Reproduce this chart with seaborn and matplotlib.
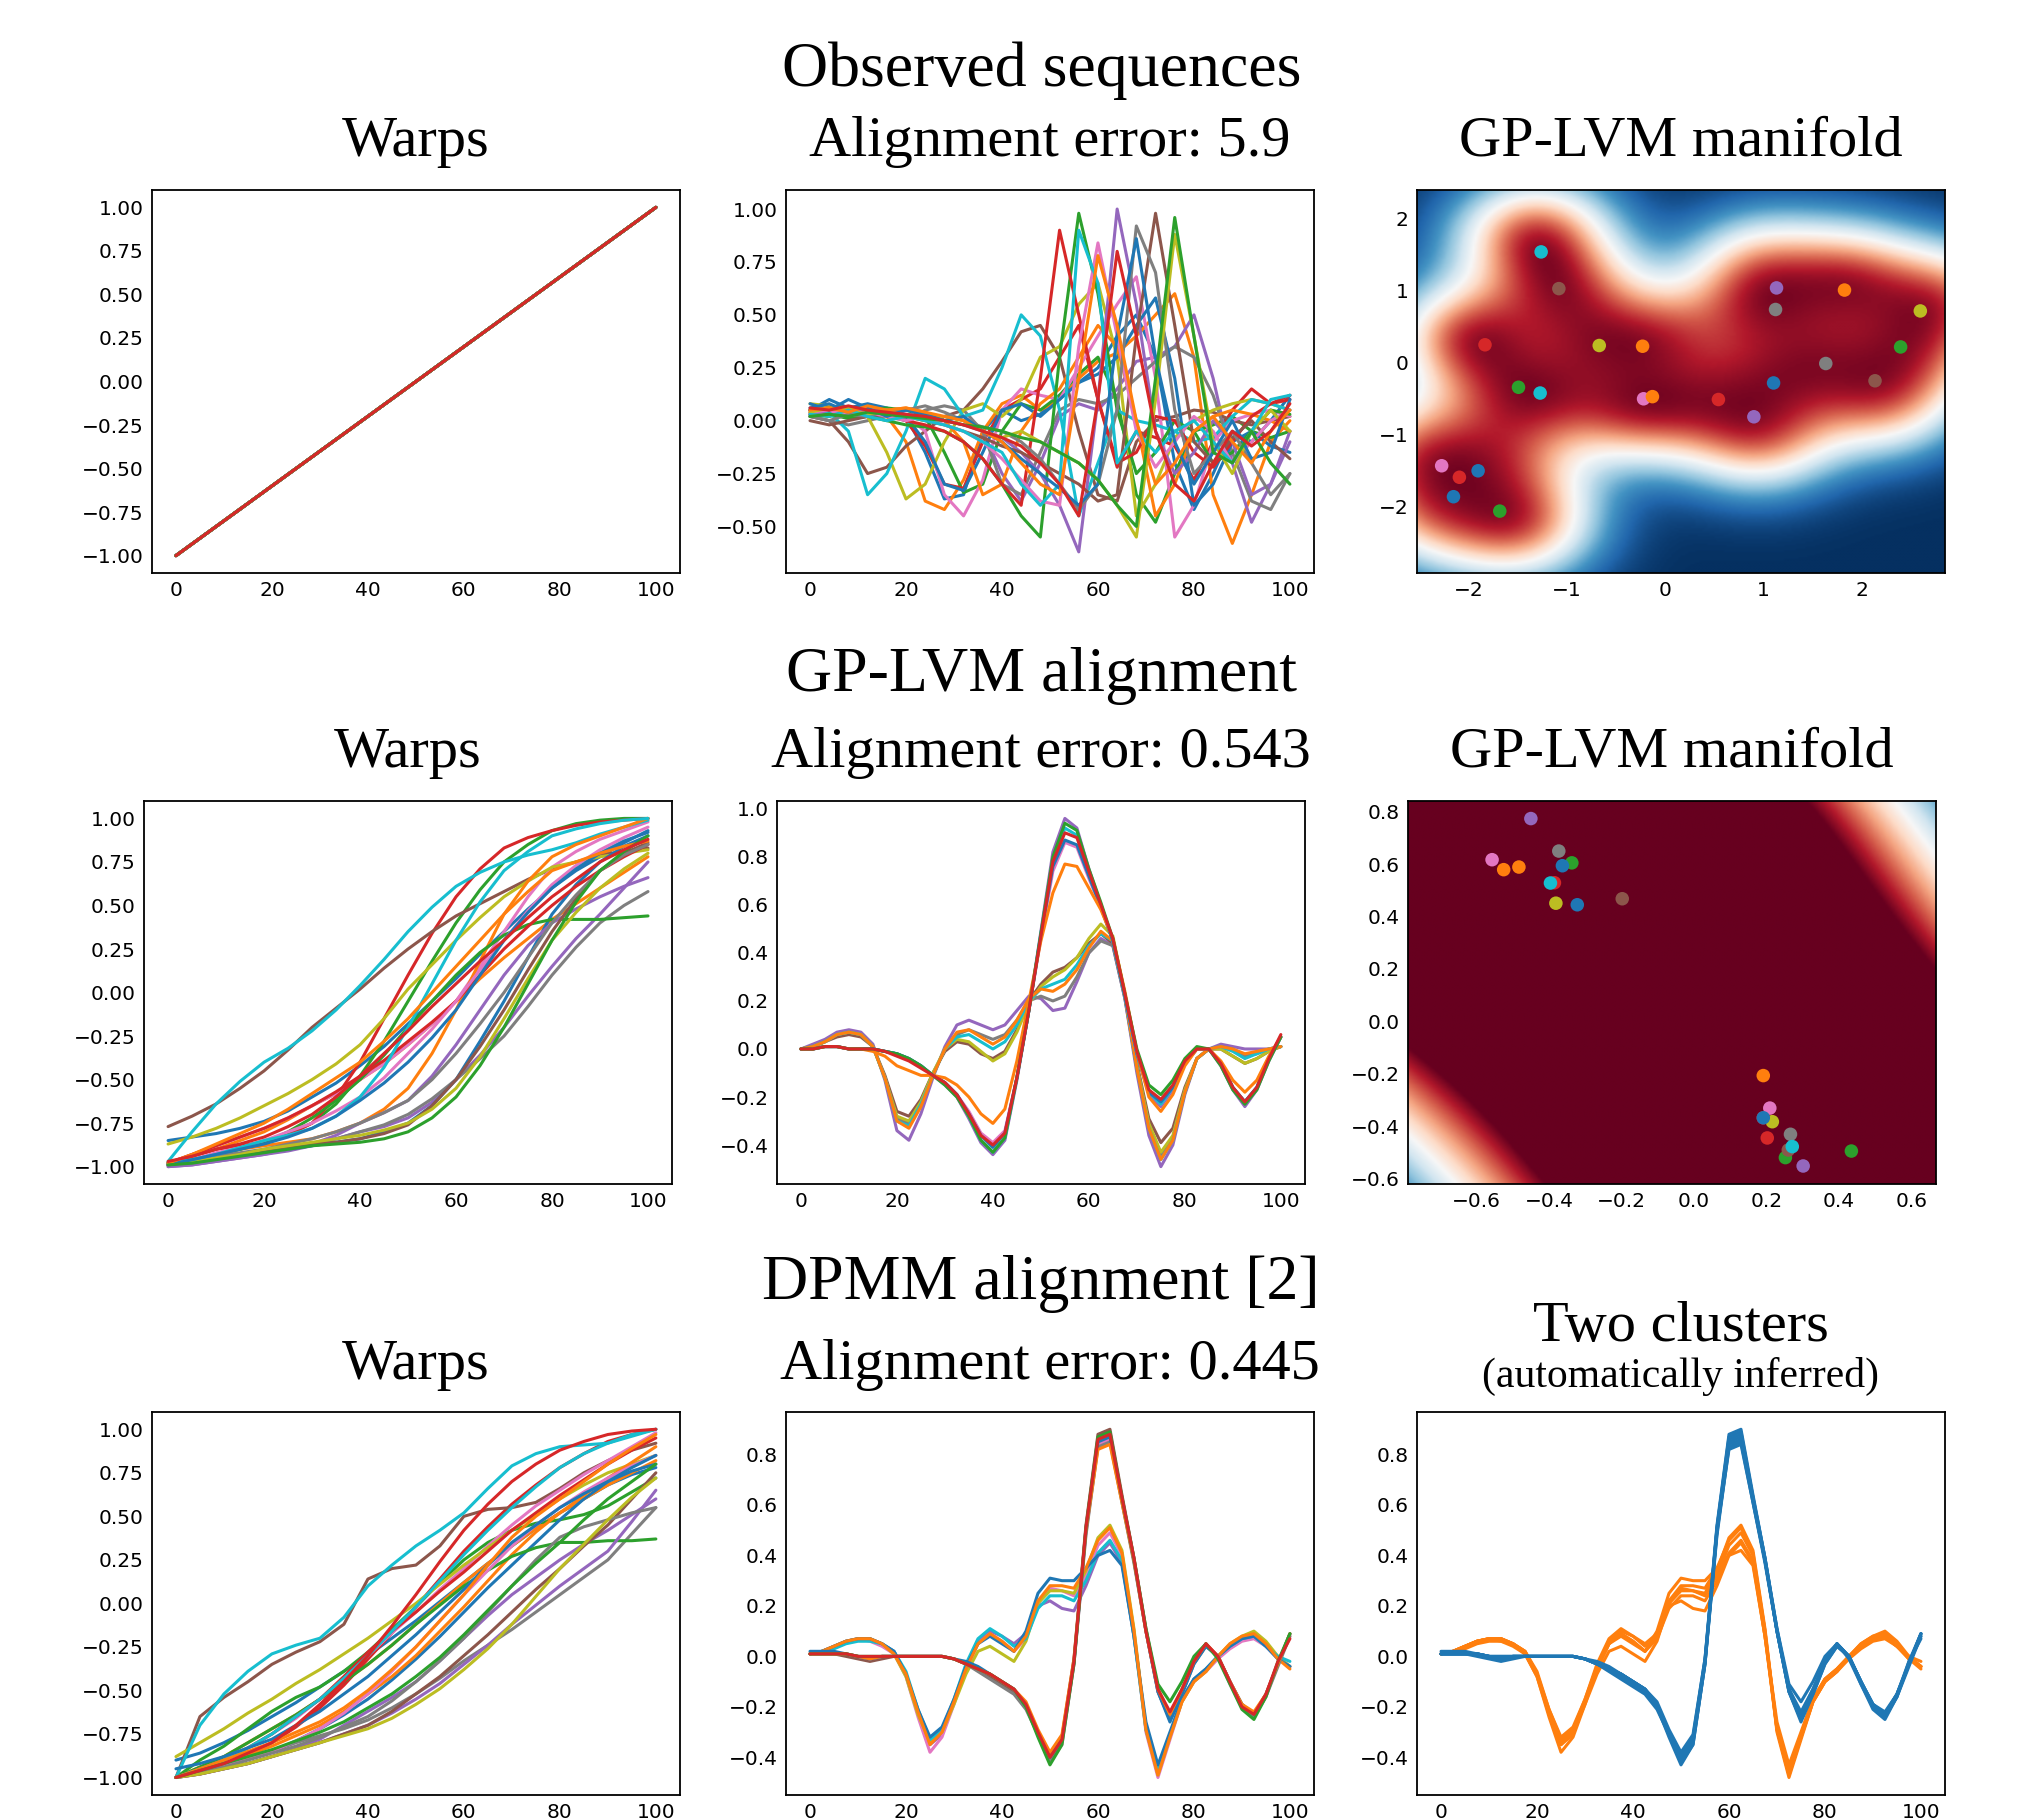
import numpy as np
import pandas as pd
import matplotlib
matplotlib.use("Agg")
import matplotlib.pyplot as plt
from matplotlib.ticker import MultipleLocator
import seaborn as sns

# ---------------- data ----------------
N_SEQ = 24
SEQ_IDS = list(range(N_SEQ))

# sampling times
T_OBS = list(range(0, 101, 4))          # observed sequences
T_WARP = list(range(0, 101, 5))         # warps
T_ALIGN = [i * 2.5 for i in range(41)]  # aligned sequences

# row 1: identity warps (all 24 identical)
IDENTITY_T = [0, 100]
IDENTITY_WARP = [-1.0, 1.0]

# row 1: observed sequences (ids 0..23)
OBSERVED = [
    [0.05, 0.10, 0.06, 0.08, 0.06, 0.02, -0.15, -0.37, -0.35, -0.05, 0.05, 0.00, 0.03, 0.12, 0.18, 0.25, 0.40, 0.50, 0.30, -0.20, -0.42, -0.25, -0.05, -0.10, 0.00, 0.12],
    [0.04, 0.05, 0.06, 0.04, 0.02, -0.10, -0.38, -0.42, -0.28, -0.05, 0.08, 0.12, 0.05, 0.10, 0.20, 0.28, 0.32, 0.40, 0.50, 0.60, 0.30, -0.35, -0.58, -0.35, -0.10, 0.00],
    [0.03, 0.02, 0.04, 0.05, 0.06, 0.05, 0.02, -0.15, -0.34, -0.30, -0.05, 0.08, 0.05, 0.12, 0.22, 0.30, 0.10, -0.35, -0.48, -0.25, -0.05, -0.02, 0.02, -0.05, -0.08, -0.05],
    [0.05, 0.06, 0.05, 0.04, 0.03, 0.00, -0.12, -0.30, -0.32, -0.10, 0.05, 0.10, 0.15, 0.30, 0.45, 0.10, -0.22, -0.05, -0.08, -0.12, -0.28, -0.10, 0.05, 0.15, 0.08, 0.10],
    [0.03, 0.05, 0.04, 0.02, 0.03, 0.01, 0.02, 0.00, 0.02, -0.05, -0.25, -0.38, -0.20, 0.02, 0.08, 0.05, 0.15, 0.28, 0.30, 0.35, 0.50, 0.20, -0.20, -0.48, -0.30, -0.05],
    [0.02, 0.00, -0.10, -0.25, -0.22, -0.12, -0.05, 0.02, 0.05, 0.15, 0.28, 0.42, 0.45, 0.30, -0.05, -0.35, -0.38, -0.10, 0.00, 0.02, 0.05, 0.04, 0.00, -0.02, 0.00, 0.02],
    [0.03, 0.04, 0.05, 0.03, 0.05, 0.02, -0.05, -0.35, -0.45, -0.28, 0.05, 0.15, 0.12, 0.10, 0.25, 0.40, 0.55, 0.68, 0.20, -0.55, -0.40, -0.10, 0.00, 0.03, 0.05, 0.02],
    [0.02, 0.00, -0.02, 0.00, 0.02, 0.00, 0.05, 0.07, 0.05, -0.05, -0.30, -0.35, -0.15, 0.05, 0.10, 0.08, 0.12, 0.20, 0.28, 0.35, 0.30, 0.12, -0.15, -0.38, -0.42, -0.25],
    [0.08, 0.07, 0.06, 0.02, -0.15, -0.37, -0.30, -0.10, 0.05, 0.08, 0.02, 0.10, 0.30, 0.35, 0.55, 0.65, 0.30, -0.45, -0.30, -0.08, 0.00, 0.05, 0.08, 0.10, 0.08, 0.05],
    [0.05, 0.04, -0.05, -0.35, -0.25, -0.05, 0.20, 0.15, 0.02, 0.05, 0.25, 0.50, 0.40, 0.05, -0.45, -0.20, 0.05, 0.00, -0.02, -0.05, -0.10, -0.08, 0.02, 0.10, 0.08, 0.05],
    [0.06, 0.08, 0.04, 0.06, 0.04, 0.02, -0.10, -0.30, -0.33, -0.15, 0.05, 0.08, 0.02, 0.10, 0.18, 0.22, 0.30, 0.45, 0.58, 0.20, -0.40, -0.30, -0.10, -0.05, -0.12, -0.15],
    [0.04, 0.06, 0.05, 0.04, 0.05, 0.06, 0.04, 0.00, -0.10, -0.35, -0.30, -0.05, 0.08, 0.15, 0.30, 0.45, 0.35, 0.00, -0.45, -0.30, -0.05, 0.02, 0.05, 0.03, 0.00, -0.05],
    [0.02, 0.03, 0.01, 0.02, 0.00, -0.02, -0.03, -0.05, -0.10, -0.18, -0.30, -0.45, -0.55, 0.30, 0.98, 0.60, 0.05, -0.25, -0.15, 0.00, -0.05, -0.20, -0.15, -0.05, 0.05, 0.03],
    [0.05, 0.06, 0.04, 0.05, 0.03, 0.00, -0.02, -0.05, -0.10, -0.18, -0.30, -0.40, 0.20, 0.90, 0.50, 0.10, -0.20, -0.15, 0.02, 0.00, -0.15, -0.22, -0.10, 0.02, 0.08, 0.12],
    [0.03, 0.05, 0.04, 0.06, 0.05, 0.03, 0.02, 0.00, -0.02, -0.05, -0.08, -0.15, -0.25, -0.40, -0.62, 0.10, 1.00, 0.55, -0.05, -0.25, -0.15, 0.00, -0.10, -0.35, -0.30, -0.10],
    [0.00, -0.02, 0.00, 0.02, 0.03, 0.02, 0.00, -0.02, -0.05, -0.08, -0.12, -0.15, -0.20, -0.25, -0.30, -0.38, -0.35, 0.40, 0.98, 0.45, -0.10, -0.20, -0.08, 0.00, -0.10, -0.18],
    [0.04, 0.05, 0.03, 0.04, 0.02, 0.00, 0.02, -0.02, -0.05, -0.10, -0.18, -0.28, -0.38, -0.40, 0.35, 0.84, 0.40, -0.05, -0.22, -0.10, 0.02, -0.05, -0.20, -0.10, 0.00, 0.05],
    [0.02, 0.00, 0.03, 0.02, 0.05, 0.05, 0.07, 0.04, 0.00, -0.03, -0.05, -0.10, -0.18, -0.30, -0.42, -0.30, 0.05, 0.92, 0.70, 0.05, -0.25, -0.15, -0.05, -0.20, -0.35, -0.25],
    [0.04, 0.06, 0.05, 0.03, 0.05, 0.02, 0.00, 0.02, 0.00, -0.05, -0.08, -0.05, -0.10, -0.15, -0.20, -0.28, -0.40, -0.55, 0.10, 0.88, 0.40, -0.10, -0.25, -0.05, 0.05, -0.05],
    [0.03, 0.02, 0.05, 0.02, 0.00, 0.02, 0.00, -0.02, -0.05, -0.10, -0.15, -0.30, -0.40, -0.30, 0.90, 0.65, -0.20, -0.05, -0.15, -0.05, 0.00, -0.10, -0.20, -0.05, 0.10, 0.12],
    [0.08, 0.05, 0.10, 0.06, 0.02, 0.05, 0.03, 0.00, 0.02, -0.05, -0.10, -0.18, -0.25, -0.32, -0.40, -0.30, 0.40, 0.86, 0.30, -0.10, -0.30, -0.15, 0.00, -0.18, -0.15, 0.10],
    [0.05, 0.06, 0.04, 0.07, 0.05, 0.06, 0.04, 0.02, 0.00, -0.05, -0.10, -0.20, -0.30, -0.35, 0.20, 0.78, 0.45, 0.00, -0.30, -0.20, -0.05, 0.02, -0.10, -0.20, -0.05, 0.05],
    [0.02, 0.03, 0.02, 0.04, 0.03, 0.02, 0.01, 0.00, -0.02, -0.03, -0.05, -0.08, -0.10, -0.15, -0.20, -0.28, -0.40, -0.50, 0.20, 0.96, 0.40, -0.15, -0.20, -0.05, -0.20, -0.30],
    [0.06, 0.05, 0.07, 0.05, 0.04, 0.03, 0.02, 0.00, -0.02, -0.05, -0.08, -0.12, -0.20, -0.30, -0.45, 0.10, 0.80, 0.40, -0.05, -0.30, -0.38, -0.20, -0.05, -0.12, -0.05, 0.08],
]

# row 1: GP-LVM latent positions (ids 0..23)
LAT1_X = [1.10, 1.82, 2.39, -1.83, 1.13, -1.08, -0.22, 1.12, 2.59, -1.26,
          -1.90, -0.23, -1.49, 0.54, 0.90, 2.13, -2.27, 1.63, -0.67, -1.27,
          -2.15, -0.13, -1.68, -2.09]
LAT1_Y = [-0.29, 1.00, 0.21, 0.24, 1.03, 1.02, -0.51, 0.73, 0.71, 1.53,
          -1.51, 0.22, -0.35, -0.52, -0.76, -0.26, -1.44, -0.02, 0.23, -0.43,
          -1.87, -0.48, -2.07, -1.60]
LAT1_EXTENT = [-2.52, 2.84, -2.93, 2.39]

# row 2: GP-LVM warps (ids 0..23)
WARPS_GPLVM = [
    [-0.85, -0.83, -0.81, -0.78, -0.74, -0.68, -0.60, -0.52, -0.42, -0.31, -0.18, -0.05, 0.08, 0.22, 0.35, 0.48, 0.60, 0.70, 0.78, 0.86, 0.93],
    [-0.98, -0.94, -0.90, -0.85, -0.80, -0.73, -0.65, -0.58, -0.50, -0.41, -0.30, -0.18, -0.05, 0.08, 0.20, 0.31, 0.42, 0.51, 0.60, 0.69, 0.78],
    [-0.98, -0.96, -0.93, -0.90, -0.86, -0.81, -0.75, -0.64, -0.48, -0.28, -0.05, 0.18, 0.40, 0.59, 0.75, 0.85, 0.93, 0.97, 0.99, 1.00, 1.00],
    [-0.98, -0.94, -0.90, -0.88, -0.86, -0.82, -0.75, -0.60, -0.40, -0.15, 0.10, 0.34, 0.55, 0.71, 0.83, 0.89, 0.93, 0.96, 0.98, 0.99, 1.00],
    [-1.00, -0.99, -0.97, -0.95, -0.93, -0.91, -0.88, -0.84, -0.80, -0.77, -0.72, -0.63, -0.50, -0.36, -0.20, -0.02, 0.15, 0.31, 0.45, 0.60, 0.75],
    [-0.77, -0.71, -0.64, -0.55, -0.45, -0.33, -0.20, -0.09, 0.02, 0.14, 0.25, 0.35, 0.44, 0.51, 0.58, 0.65, 0.71, 0.75, 0.79, 0.81, 0.83],
    [-0.98, -0.93, -0.88, -0.83, -0.78, -0.72, -0.65, -0.58, -0.50, -0.41, -0.30, -0.18, -0.05, 0.15, 0.35, 0.55, 0.72, 0.81, 0.88, 0.93, 0.98],
    [-0.99, -0.98, -0.96, -0.94, -0.92, -0.90, -0.87, -0.84, -0.80, -0.76, -0.70, -0.61, -0.50, -0.38, -0.25, -0.08, 0.10, 0.26, 0.40, 0.50, 0.58],
    [-0.87, -0.83, -0.78, -0.72, -0.65, -0.58, -0.50, -0.41, -0.30, -0.15, 0.02, 0.16, 0.30, 0.43, 0.55, 0.64, 0.72, 0.75, 0.78, 0.80, 0.82],
    [-0.97, -0.80, -0.64, -0.51, -0.40, -0.32, -0.22, -0.10, 0.04, 0.19, 0.35, 0.49, 0.61, 0.69, 0.75, 0.79, 0.82, 0.86, 0.91, 0.95, 0.99],
    [-0.99, -0.98, -0.96, -0.94, -0.92, -0.90, -0.88, -0.86, -0.84, -0.80, -0.75, -0.65, -0.50, -0.28, -0.05, 0.20, 0.45, 0.62, 0.75, 0.84, 0.90],
    [-0.99, -0.96, -0.93, -0.90, -0.88, -0.86, -0.84, -0.80, -0.75, -0.67, -0.55, -0.35, -0.10, 0.18, 0.45, 0.64, 0.78, 0.85, 0.90, 0.95, 1.00],
    [-0.99, -0.96, -0.93, -0.90, -0.86, -0.80, -0.72, -0.62, -0.50, -0.36, -0.20, -0.05, 0.10, 0.23, 0.33, 0.39, 0.42, 0.42, 0.42, 0.43, 0.44],
    [-0.98, -0.93, -0.88, -0.83, -0.78, -0.72, -0.65, -0.57, -0.48, -0.39, -0.28, -0.17, -0.05, 0.10, 0.25, 0.38, 0.50, 0.61, 0.70, 0.78, 0.85],
    [-1.00, -0.99, -0.97, -0.95, -0.93, -0.90, -0.87, -0.82, -0.75, -0.69, -0.62, -0.48, -0.30, -0.10, 0.10, 0.27, 0.40, 0.48, 0.55, 0.61, 0.66],
    [-0.99, -0.97, -0.95, -0.93, -0.91, -0.89, -0.87, -0.86, -0.84, -0.81, -0.76, -0.65, -0.50, -0.31, -0.10, 0.13, 0.35, 0.54, 0.70, 0.80, 0.86],
    [-0.99, -0.96, -0.92, -0.89, -0.85, -0.80, -0.75, -0.68, -0.60, -0.49, -0.35, -0.21, -0.05, 0.13, 0.30, 0.47, 0.62, 0.73, 0.82, 0.89, 0.95],
    [-0.98, -0.96, -0.94, -0.92, -0.90, -0.87, -0.84, -0.80, -0.75, -0.69, -0.62, -0.50, -0.35, -0.18, 0.00, 0.20, 0.40, 0.56, 0.70, 0.79, 0.85],
    [-0.98, -0.97, -0.95, -0.93, -0.90, -0.88, -0.86, -0.84, -0.82, -0.79, -0.75, -0.67, -0.55, -0.37, -0.15, 0.08, 0.30, 0.46, 0.60, 0.71, 0.80],
    [-0.98, -0.96, -0.93, -0.89, -0.85, -0.82, -0.78, -0.71, -0.60, -0.43, -0.20, 0.05, 0.30, 0.52, 0.70, 0.81, 0.90, 0.94, 0.97, 0.99, 1.00],
    [-0.99, -0.96, -0.93, -0.90, -0.87, -0.83, -0.78, -0.71, -0.62, -0.52, -0.40, -0.26, -0.10, 0.10, 0.30, 0.46, 0.60, 0.71, 0.80, 0.87, 0.92],
    [-0.98, -0.93, -0.87, -0.81, -0.75, -0.67, -0.58, -0.49, -0.40, -0.28, -0.15, 0.00, 0.15, 0.30, 0.45, 0.58, 0.70, 0.75, 0.80, 0.84, 0.87],
    [-0.99, -0.98, -0.96, -0.94, -0.92, -0.90, -0.88, -0.87, -0.86, -0.84, -0.80, -0.72, -0.60, -0.42, -0.20, 0.05, 0.30, 0.52, 0.70, 0.81, 0.90],
    [-0.97, -0.94, -0.90, -0.87, -0.83, -0.77, -0.70, -0.60, -0.48, -0.35, -0.22, -0.08, 0.05, 0.18, 0.30, 0.43, 0.55, 0.65, 0.75, 0.82, 0.88],
]

# row 2: GP-LVM aligned sequences (a subset of ids; bundles overlap)
ALIGN_GPLVM_IDS = [4, 5, 7, 8, 9, 11, 14, 16, 19, 20, 21, 22, 23]
ALIGN_GPLVM = [
    [0.00, 0.02, 0.04, 0.07, 0.08, 0.07, 0.02, -0.13, -0.34, -0.38, -0.27, -0.12, 0.01, 0.10, 0.12, 0.10, 0.08, 0.10, 0.16, 0.22, 0.21, 0.16, 0.17, 0.28, 0.40, 0.46, 0.43, 0.21, -0.10, -0.36, -0.49, -0.40, -0.19, -0.04, 0.00, 0.02, 0.01, 0.00, 0.00, 0.00, 0.01],
    [0.00, 0.01, 0.03, 0.05, 0.06, 0.05, 0.01, -0.11, -0.26, -0.28, -0.21, -0.10, -0.01, 0.03, 0.02, -0.02, -0.04, -0.01, 0.08, 0.20, 0.27, 0.32, 0.34, 0.38, 0.44, 0.48, 0.44, 0.22, -0.06, -0.29, -0.39, -0.33, -0.16, -0.04, 0.00, 0.00, -0.03, -0.06, -0.04, -0.01, 0.01],
    [0.00, 0.01, 0.03, 0.06, 0.07, 0.06, 0.01, -0.12, -0.29, -0.31, -0.23, -0.11, 0.00, 0.06, 0.08, 0.06, 0.04, 0.06, 0.12, 0.20, 0.22, 0.20, 0.22, 0.30, 0.40, 0.45, 0.43, 0.21, -0.08, -0.32, -0.44, -0.37, -0.18, -0.04, 0.00, 0.01, 0.00, -0.03, -0.02, 0.00, 0.01],
    [0.00, 0.01, 0.03, 0.06, 0.07, 0.06, 0.01, -0.12, -0.28, -0.30, -0.22, -0.10, 0.00, 0.04, 0.03, -0.01, -0.05, -0.02, 0.07, 0.19, 0.26, 0.30, 0.33, 0.38, 0.46, 0.52, 0.47, 0.23, -0.07, -0.31, -0.43, -0.36, -0.17, -0.04, 0.00, 0.00, -0.03, -0.06, -0.04, -0.01, 0.01],
    [0.00, 0.01, 0.03, 0.06, 0.07, 0.06, 0.01, -0.12, -0.30, -0.32, -0.23, -0.11, 0.00, 0.05, 0.06, 0.03, 0.00, 0.03, 0.10, 0.20, 0.25, 0.27, 0.29, 0.35, 0.43, 0.48, 0.45, 0.22, -0.08, -0.33, -0.46, -0.38, -0.18, -0.04, 0.00, 0.01, -0.01, -0.04, -0.02, 0.00, 0.01],
    [0.00, 0.01, 0.03, 0.06, 0.07, 0.06, 0.01, -0.12, -0.30, -0.33, -0.24, -0.11, 0.00, 0.07, 0.08, 0.05, 0.02, 0.05, 0.12, 0.21, 0.25, 0.24, 0.27, 0.33, 0.42, 0.49, 0.45, 0.22, -0.08, -0.33, -0.46, -0.38, -0.18, -0.04, 0.00, 0.01, 0.00, -0.02, -0.01, 0.00, 0.01],
    [0.00, 0.00, 0.01, 0.01, 0.00, 0.00, 0.00, -0.01, -0.02, -0.04, -0.07, -0.11, -0.15, -0.20, -0.29, -0.39, -0.44, -0.38, -0.13, 0.16, 0.49, 0.82, 0.96, 0.92, 0.75, 0.60, 0.45, 0.22, -0.02, -0.19, -0.24, -0.17, -0.06, 0.00, 0.00, -0.07, -0.17, -0.24, -0.17, -0.05, 0.05],
    [0.00, 0.00, 0.01, 0.01, 0.00, 0.00, 0.00, -0.01, -0.02, -0.04, -0.07, -0.11, -0.14, -0.19, -0.26, -0.35, -0.39, -0.34, -0.12, 0.16, 0.46, 0.74, 0.86, 0.84, 0.71, 0.59, 0.45, 0.22, -0.02, -0.18, -0.23, -0.16, -0.06, 0.00, 0.00, -0.06, -0.16, -0.22, -0.16, -0.04, 0.05],
    [0.00, 0.00, 0.01, 0.01, 0.00, 0.00, 0.00, -0.01, -0.02, -0.04, -0.07, -0.11, -0.14, -0.19, -0.28, -0.38, -0.43, -0.37, -0.12, 0.16, 0.48, 0.79, 0.92, 0.89, 0.74, 0.60, 0.45, 0.22, -0.02, -0.18, -0.23, -0.16, -0.06, 0.00, 0.00, -0.06, -0.16, -0.22, -0.16, -0.04, 0.05],
    [0.00, 0.00, 0.01, 0.01, 0.00, 0.00, 0.00, -0.01, -0.02, -0.04, -0.07, -0.11, -0.14, -0.19, -0.27, -0.36, -0.41, -0.35, -0.12, 0.16, 0.47, 0.76, 0.87, 0.85, 0.72, 0.59, 0.45, 0.22, -0.02, -0.18, -0.22, -0.16, -0.06, 0.00, 0.00, -0.06, -0.16, -0.22, -0.16, -0.04, 0.05],
    [0.00, 0.00, 0.01, 0.01, 0.00, 0.00, -0.01, -0.03, -0.07, -0.09, -0.11, -0.11, -0.12, -0.15, -0.20, -0.27, -0.31, -0.25, -0.05, 0.20, 0.45, 0.65, 0.77, 0.76, 0.67, 0.58, 0.46, 0.24, -0.01, -0.20, -0.26, -0.19, -0.07, 0.00, 0.00, -0.05, -0.13, -0.18, -0.13, -0.03, 0.05],
    [0.00, 0.00, 0.01, 0.01, 0.00, 0.00, 0.00, -0.01, -0.02, -0.04, -0.07, -0.11, -0.15, -0.20, -0.28, -0.38, -0.43, -0.37, -0.12, 0.16, 0.48, 0.80, 0.94, 0.91, 0.75, 0.61, 0.46, 0.23, 0.00, -0.15, -0.19, -0.13, -0.04, 0.01, 0.00, -0.07, -0.17, -0.23, -0.17, -0.05, 0.05],
    [0.00, 0.00, 0.01, 0.01, 0.00, 0.00, 0.00, -0.01, -0.03, -0.05, -0.08, -0.11, -0.14, -0.19, -0.27, -0.36, -0.40, -0.35, -0.12, 0.16, 0.47, 0.78, 0.90, 0.88, 0.74, 0.60, 0.46, 0.23, -0.01, -0.17, -0.21, -0.15, -0.05, 0.00, 0.00, -0.06, -0.16, -0.22, -0.16, -0.04, 0.06],
]

# row 2: GP-LVM latent positions after alignment (ids 0..23)
LAT2_X = [-0.322, -0.525, -0.337, -0.385, -0.450, -0.198, -0.557, -0.373, -0.381, -0.396,
          -0.363, -0.483, 0.252, 0.191, 0.301, 0.260, 0.209, 0.266, 0.216, 0.271,
          0.191, 0.191, 0.434, 0.202]
LAT2_Y = [0.445, 0.579, 0.605, 0.529, 0.774, 0.468, 0.617, 0.650, 0.451, 0.528,
          0.594, 0.589, -0.520, -0.368, -0.552, -0.491, -0.331, -0.431, -0.383, -0.478,
          -0.368, -0.207, -0.495, -0.445]
LAT2_EXTENT = [-0.789, 0.667, -0.621, 0.841]

# row 3: DPMM warps (ids 0..23)
WARPS_DPMM = [
    [-0.90, -0.86, -0.80, -0.73, -0.65, -0.57, -0.48, -0.39, -0.30, -0.20, -0.10, 0.01, 0.12, 0.23, 0.33, 0.43, 0.52, 0.60, 0.68, 0.74, 0.78],
    [-1.00, -0.94, -0.88, -0.80, -0.72, -0.64, -0.55, -0.45, -0.35, -0.24, -0.12, 0.00, 0.12, 0.23, 0.33, 0.43, 0.52, 0.60, 0.68, 0.75, 0.82],
    [-1.00, -0.90, -0.82, -0.72, -0.62, -0.54, -0.48, -0.39, -0.28, -0.15, -0.02, 0.12, 0.25, 0.35, 0.42, 0.46, 0.48, 0.51, 0.56, 0.64, 0.72],
    [-1.00, -0.96, -0.92, -0.87, -0.80, -0.71, -0.60, -0.47, -0.32, -0.17, -0.02, 0.14, 0.30, 0.44, 0.57, 0.68, 0.78, 0.86, 0.93, 0.97, 1.00],
    [-1.00, -0.98, -0.95, -0.92, -0.88, -0.83, -0.78, -0.70, -0.62, -0.54, -0.45, -0.33, -0.20, -0.07, 0.05, 0.15, 0.25, 0.34, 0.42, 0.51, 0.60],
    [-1.00, -0.65, -0.54, -0.45, -0.35, -0.28, -0.22, -0.12, 0.14, 0.20, 0.22, 0.33, 0.50, 0.54, 0.55, 0.58, 0.66, 0.75, 0.82, 0.88, 0.92],
    [-1.00, -0.95, -0.90, -0.83, -0.75, -0.66, -0.55, -0.43, -0.30, -0.17, -0.05, 0.08, 0.20, 0.33, 0.45, 0.56, 0.65, 0.74, 0.82, 0.90, 0.98],
    [-1.00, -0.97, -0.93, -0.89, -0.85, -0.80, -0.76, -0.72, -0.67, -0.60, -0.52, -0.43, -0.33, -0.24, -0.15, -0.05, 0.05, 0.15, 0.25, 0.40, 0.55],
    [-0.88, -0.80, -0.72, -0.63, -0.55, -0.46, -0.38, -0.29, -0.20, -0.10, 0.00, 0.11, 0.22, 0.32, 0.42, 0.51, 0.60, 0.68, 0.75, 0.80, 0.85],
    [-1.00, -0.70, -0.52, -0.39, -0.29, -0.24, -0.20, -0.08, 0.10, 0.22, 0.33, 0.42, 0.52, 0.66, 0.79, 0.86, 0.90, 0.91, 0.92, 0.96, 1.00],
    [-1.00, -0.97, -0.93, -0.89, -0.85, -0.79, -0.72, -0.64, -0.55, -0.44, -0.32, -0.19, -0.05, 0.09, 0.22, 0.35, 0.48, 0.60, 0.70, 0.76, 0.80],
    [-1.00, -0.96, -0.92, -0.87, -0.82, -0.76, -0.70, -0.62, -0.52, -0.42, -0.30, -0.16, -0.02, 0.13, 0.28, 0.41, 0.52, 0.62, 0.72, 0.81, 0.90],
    [-1.00, -0.94, -0.88, -0.80, -0.72, -0.64, -0.55, -0.45, -0.35, -0.24, -0.12, -0.01, 0.10, 0.19, 0.27, 0.32, 0.35, 0.35, 0.36, 0.36, 0.37],
    [-1.00, -0.95, -0.90, -0.83, -0.75, -0.65, -0.55, -0.42, -0.28, -0.16, -0.05, 0.07, 0.18, 0.30, 0.42, 0.52, 0.62, 0.71, 0.80, 0.88, 0.95],
    [-1.00, -0.98, -0.95, -0.92, -0.88, -0.84, -0.80, -0.75, -0.70, -0.63, -0.55, -0.46, -0.35, -0.24, -0.12, -0.01, 0.10, 0.20, 0.30, 0.47, 0.65],
    [-1.00, -0.98, -0.95, -0.92, -0.88, -0.84, -0.80, -0.75, -0.70, -0.62, -0.52, -0.42, -0.30, -0.18, -0.05, 0.08, 0.20, 0.33, 0.45, 0.60, 0.75],
    [-1.00, -0.97, -0.93, -0.89, -0.85, -0.79, -0.72, -0.63, -0.52, -0.39, -0.25, -0.10, 0.05, 0.19, 0.33, 0.45, 0.55, 0.64, 0.72, 0.79, 0.85],
    [-1.00, -0.97, -0.94, -0.90, -0.86, -0.82, -0.77, -0.71, -0.65, -0.56, -0.45, -0.33, -0.20, -0.05, 0.10, 0.25, 0.38, 0.44, 0.48, 0.52, 0.55],
    [-1.00, -0.98, -0.95, -0.92, -0.88, -0.84, -0.80, -0.76, -0.72, -0.66, -0.58, -0.49, -0.38, -0.26, -0.12, 0.04, 0.20, 0.34, 0.48, 0.61, 0.72],
    [-1.00, -0.95, -0.90, -0.83, -0.75, -0.65, -0.55, -0.43, -0.30, -0.16, -0.02, 0.13, 0.28, 0.42, 0.55, 0.67, 0.78, 0.86, 0.92, 0.97, 1.00],
    [-0.95, -0.92, -0.88, -0.83, -0.78, -0.70, -0.62, -0.52, -0.42, -0.30, -0.18, -0.05, 0.08, 0.22, 0.35, 0.45, 0.55, 0.63, 0.70, 0.78, 0.85],
    [-1.00, -0.95, -0.90, -0.85, -0.80, -0.74, -0.68, -0.60, -0.50, -0.38, -0.25, -0.10, 0.05, 0.22, 0.38, 0.50, 0.60, 0.70, 0.80, 0.89, 0.97],
    [-1.00, -0.96, -0.92, -0.88, -0.84, -0.79, -0.74, -0.68, -0.60, -0.52, -0.42, -0.31, -0.18, -0.04, 0.10, 0.23, 0.35, 0.48, 0.60, 0.70, 0.80],
    [-1.00, -0.96, -0.92, -0.86, -0.80, -0.70, -0.58, -0.45, -0.30, -0.13, 0.05, 0.24, 0.42, 0.57, 0.70, 0.80, 0.88, 0.93, 0.97, 0.99, 1.00],
]

# row 3: DPMM aligned sequences (subset of ids) and their inferred cluster
ALIGN_DPMM_IDS = [4, 6, 8, 9, 10, 11, 15, 16, 17, 20, 21, 22, 23]
ALIGN_DPMM_CLUSTER = ["B", "B", "B", "B", "B", "B", "A", "A", "A", "A", "A", "A", "A"]
ALIGN_DPMM = [
    [0.01, 0.02, 0.04, 0.06, 0.07, 0.07, 0.05, 0.02, -0.07, -0.22, -0.35, -0.31, -0.18, -0.04, 0.06, 0.10, 0.08, 0.05, 0.09, 0.20, 0.22, 0.19, 0.18, 0.28, 0.40, 0.45, 0.37, 0.08, -0.28, -0.45, -0.31, -0.17, -0.09, -0.05, 0.00, 0.04, 0.07, 0.08, 0.04, -0.01, -0.04],
    [0.01, 0.02, 0.04, 0.06, 0.07, 0.06, 0.04, 0.01, -0.08, -0.24, -0.38, -0.32, -0.19, -0.05, 0.05, 0.09, 0.06, 0.02, 0.07, 0.21, 0.27, 0.26, 0.24, 0.32, 0.44, 0.49, 0.40, 0.10, -0.30, -0.48, -0.33, -0.18, -0.10, -0.06, -0.01, 0.03, 0.06, 0.07, 0.04, 0.00, -0.04],
    [0.01, 0.02, 0.04, 0.06, 0.07, 0.07, 0.05, 0.01, -0.08, -0.23, -0.34, -0.30, -0.19, -0.07, 0.02, 0.04, 0.01, -0.02, 0.06, 0.21, 0.26, 0.26, 0.25, 0.34, 0.47, 0.52, 0.42, 0.11, -0.29, -0.47, -0.32, -0.18, -0.10, -0.06, 0.00, 0.05, 0.08, 0.10, 0.06, 0.00, -0.04],
    [0.01, 0.02, 0.03, 0.05, 0.06, 0.06, 0.05, 0.02, -0.06, -0.21, -0.33, -0.29, -0.17, -0.03, 0.07, 0.11, 0.08, 0.04, 0.07, 0.19, 0.24, 0.24, 0.22, 0.30, 0.41, 0.46, 0.38, 0.08, -0.29, -0.45, -0.31, -0.17, -0.09, -0.05, 0.00, 0.04, 0.07, 0.08, 0.04, 0.00, -0.02],
    [0.01, 0.02, 0.04, 0.06, 0.07, 0.07, 0.05, 0.02, -0.07, -0.21, -0.32, -0.28, -0.17, -0.04, 0.05, 0.08, 0.05, 0.02, 0.10, 0.25, 0.31, 0.30, 0.30, 0.35, 0.40, 0.42, 0.36, 0.08, -0.26, -0.43, -0.30, -0.17, -0.09, -0.05, 0.00, 0.04, 0.07, 0.08, 0.04, -0.01, -0.04],
    [0.01, 0.02, 0.04, 0.06, 0.07, 0.07, 0.05, 0.01, -0.07, -0.22, -0.35, -0.30, -0.18, -0.05, 0.05, 0.09, 0.06, 0.02, 0.08, 0.22, 0.28, 0.28, 0.27, 0.35, 0.46, 0.51, 0.41, 0.10, -0.29, -0.47, -0.32, -0.18, -0.10, -0.06, 0.00, 0.05, 0.08, 0.09, 0.05, -0.01, -0.05],
    [0.01, 0.01, 0.01, 0.00, -0.01, -0.02, -0.01, 0.00, 0.00, 0.00, 0.00, 0.00, -0.01, -0.03, -0.05, -0.08, -0.11, -0.14, -0.20, -0.30, -0.39, -0.32, -0.01, 0.52, 0.88, 0.90, 0.64, 0.39, 0.11, -0.13, -0.24, -0.14, -0.02, 0.05, 0.00, -0.10, -0.19, -0.23, -0.15, -0.03, 0.09],
    [0.01, 0.01, 0.01, 0.01, 0.00, -0.01, 0.00, 0.00, 0.00, 0.00, 0.00, 0.00, -0.01, -0.03, -0.05, -0.07, -0.10, -0.13, -0.20, -0.31, -0.42, -0.35, -0.03, 0.49, 0.84, 0.86, 0.62, 0.38, 0.10, -0.14, -0.25, -0.14, -0.02, 0.05, 0.00, -0.11, -0.20, -0.24, -0.16, -0.03, 0.08],
    [0.01, 0.01, 0.01, 0.01, 0.00, -0.01, 0.00, 0.00, 0.00, 0.00, 0.00, 0.00, -0.01, -0.03, -0.06, -0.09, -0.12, -0.15, -0.21, -0.31, -0.41, -0.34, -0.03, 0.48, 0.83, 0.85, 0.61, 0.37, 0.10, -0.14, -0.25, -0.15, -0.03, 0.04, 0.00, -0.10, -0.20, -0.24, -0.16, -0.04, 0.08],
    [0.02, 0.02, 0.02, 0.01, 0.00, -0.01, 0.00, 0.00, 0.00, 0.00, 0.00, 0.00, -0.01, -0.02, -0.04, -0.07, -0.10, -0.13, -0.19, -0.30, -0.40, -0.33, -0.02, 0.50, 0.85, 0.87, 0.62, 0.38, 0.10, -0.14, -0.26, -0.15, -0.03, 0.04, 0.00, -0.10, -0.19, -0.23, -0.15, -0.03, 0.09],
    [0.01, 0.01, 0.01, 0.01, 0.00, -0.01, 0.00, 0.00, 0.00, 0.00, 0.00, 0.00, -0.01, -0.03, -0.05, -0.07, -0.10, -0.13, -0.18, -0.29, -0.38, -0.31, -0.01, 0.50, 0.82, 0.84, 0.61, 0.38, 0.10, -0.13, -0.23, -0.13, -0.02, 0.05, 0.00, -0.10, -0.19, -0.22, -0.15, -0.03, 0.09],
    [0.01, 0.01, 0.01, 0.01, 0.00, 0.00, 0.00, 0.00, 0.00, 0.00, 0.00, 0.00, -0.01, -0.03, -0.05, -0.07, -0.10, -0.13, -0.20, -0.32, -0.43, -0.35, -0.03, 0.51, 0.87, 0.89, 0.63, 0.39, 0.11, -0.11, -0.18, -0.10, 0.00, 0.05, -0.01, -0.11, -0.21, -0.25, -0.16, -0.02, 0.09],
    [0.01, 0.01, 0.01, 0.01, 0.00, 0.00, 0.00, 0.00, 0.00, 0.00, 0.00, 0.00, -0.01, -0.03, -0.05, -0.07, -0.10, -0.13, -0.19, -0.30, -0.40, -0.33, -0.02, 0.51, 0.86, 0.88, 0.63, 0.39, 0.10, -0.13, -0.22, -0.13, -0.02, 0.05, 0.00, -0.10, -0.20, -0.23, -0.15, -0.02, 0.07],
]

ROW_TITLES = ["Observed sequences", "GP-LVM alignment", "DPMM alignment [2]"]
ERRORS = ["5.9", "0.543", "0.445"]

# ---------------- style ----------------
sns.set_style("white")
plt.rcParams["font.family"] = ["DejaVu Sans"]
plt.rcParams["axes.edgecolor"] = "black"
plt.rcParams["xtick.color"] = "black"
plt.rcParams["ytick.color"] = "black"
plt.rcParams["text.color"] = "black"
SERIF = ["Liberation Serif", "DejaVu Serif"]
TAB10 = sns.color_palette("tab10", 10)
SEQ_COLORS = {f"s{i:02d}": TAB10[i % 10] for i in SEQ_IDS}
LW = 2.2
TICK_FS = 14.5


def style_axes(ax):
    ax.set_xlabel("")
    ax.set_ylabel("")
    ax.tick_params(labelsize=TICK_FS, length=0, pad=6)
    for s in ax.spines.values():
        s.set_color("black")
        s.set_linewidth(1.3)


def draw_curves(ax, t, curves, ids):
    keys = [f"s{i:02d}" for i in ids]
    df = pd.DataFrame({
        "t": np.tile(np.asarray(t, float), len(curves)),
        "v": np.concatenate([np.asarray(c, float) for c in curves]),
        "seq": np.repeat(keys, len(t)),
    })
    sns.lineplot(data=df, x="t", y="v", hue="seq", hue_order=keys,
                 palette={k: SEQ_COLORS[k] for k in keys}, estimator=None,
                 sort=False, legend=False, lw=LW, ax=ax)
    ax.set_xticks([0, 20, 40, 60, 80, 100])
    style_axes(ax)


def gp_variance(px, py, extent, ell, noise, n=220):
    gx = np.linspace(extent[0], extent[1], n)
    gy = np.linspace(extent[2], extent[3], n)
    GX, GY = np.meshgrid(gx, gy)
    P = np.column_stack([px, py])
    G = np.column_stack([GX.ravel(), GY.ravel()])
    K = np.exp(-((P[:, None, :] - P[None, :, :]) ** 2).sum(-1) / (2 * ell ** 2))
    K += noise * np.eye(len(P))
    Ks = np.exp(-((G[:, None, :] - P[None, :, :]) ** 2).sum(-1) / (2 * ell ** 2))
    var = 1 - np.sum(Ks * np.linalg.solve(K, Ks.T).T, axis=1)
    return var.reshape(n, n)


def draw_manifold(ax, xs, ys, extent, ell, noise, vmin, vmax):
    var = gp_variance(xs, ys, extent, ell, noise)
    ax.imshow(var, extent=extent, origin="lower", cmap="RdBu", vmin=vmin, vmax=vmax,
              aspect="auto", interpolation="bilinear")
    keys = [f"s{i:02d}" for i in SEQ_IDS]
    sns.scatterplot(x=xs, y=ys, hue=keys, hue_order=keys, palette=SEQ_COLORS,
                    s=95, edgecolor="none", legend=False, ax=ax, zorder=3)
    ax.set_xlim(extent[0], extent[1])
    ax.set_ylim(extent[2], extent[3])
    style_axes(ax)


fig = plt.figure(figsize=(20.18, 18.18), dpi=100)

W, H = 0.2616, 0.2107
pos = {
    (0, 0): [0.0753, 0.6848], (0, 1): [0.3895, 0.6848], (0, 2): [0.7022, 0.6848],
    (1, 0): [0.0714, 0.3487], (1, 1): [0.3850, 0.3487], (1, 2): [0.6977, 0.3487],
    (2, 0): [0.0753, 0.0127], (2, 1): [0.3895, 0.0127], (2, 2): [0.7022, 0.0127],
}
axes = {k: fig.add_axes([v[0], v[1], W, H]) for k, v in pos.items()}

# row 1
draw_curves(axes[0, 0], IDENTITY_T, [IDENTITY_WARP] * N_SEQ, SEQ_IDS)
draw_curves(axes[0, 1], T_OBS, OBSERVED, SEQ_IDS)
axes[0, 1].set_ylim(-0.72, 1.09)
axes[0, 1].yaxis.set_major_locator(MultipleLocator(0.25))
draw_manifold(axes[0, 2], LAT1_X, LAT1_Y, LAT1_EXTENT, ell=0.8, noise=0.05,
              vmin=0.0, vmax=1.0)

# row 2
draw_curves(axes[1, 0], T_WARP, WARPS_GPLVM, SEQ_IDS)
draw_curves(axes[1, 1], T_ALIGN, ALIGN_GPLVM, ALIGN_GPLVM_IDS)
draw_manifold(axes[1, 2], LAT2_X, LAT2_Y, LAT2_EXTENT, ell=0.9, noise=0.05,
              vmin=0.29, vmax=0.62)

# row 3
draw_curves(axes[2, 0], T_WARP, WARPS_DPMM, SEQ_IDS)
draw_curves(axes[2, 1], T_ALIGN, ALIGN_DPMM, ALIGN_DPMM_IDS)

ax = axes[2, 2]
df = pd.DataFrame({
    "t": np.tile(np.asarray(T_ALIGN, float), len(ALIGN_DPMM)),
    "v": np.concatenate([np.asarray(c, float) for c in ALIGN_DPMM]),
    "seq": np.repeat([f"s{i:02d}" for i in ALIGN_DPMM_IDS], len(T_ALIGN)),
    "cluster": np.repeat(ALIGN_DPMM_CLUSTER, len(T_ALIGN)),
})
sns.lineplot(data=df, x="t", y="v", hue="cluster", hue_order=["B", "A"],
             palette={"B": TAB10[1], "A": TAB10[0]}, units="seq", estimator=None,
             sort=False, legend=False, lw=LW, ax=ax)
ax.set_xticks([0, 20, 40, 60, 80, 100])
style_axes(ax)

# titles
BIG, MID = 46, 42
fig.text(0.516, 0.961, ROW_TITLES[0], ha="center", va="center", fontsize=BIG, family=SERIF)
fig.text(0.516, 0.628, ROW_TITLES[1], ha="center", va="center", fontsize=BIG, family=SERIF)
fig.text(0.516, 0.294, ROW_TITLES[2], ha="center", va="center", fontsize=BIG, family=SERIF)

row_y = [0.922, 0.586, 0.249]
for r in range(3):
    fig.text(pos[(r, 0)][0] + W / 2, row_y[r], "Warps", ha="center", va="center",
             fontsize=MID, family=SERIF)
    fig.text(pos[(r, 1)][0] + W / 2, row_y[r], f"Alignment error: {ERRORS[r]}",
             ha="center", va="center", fontsize=MID, family=SERIF)
for r in range(2):
    fig.text(pos[(r, 2)][0] + W / 2, row_y[r], "GP-LVM manifold", ha="center",
             va="center", fontsize=MID, family=SERIF)
fig.text(pos[(2, 2)][0] + W / 2, 0.270, "Two clusters", ha="center", va="center",
         fontsize=MID, family=SERIF)
fig.text(pos[(2, 2)][0] + W / 2, 0.243, "(automatically inferred)", ha="center",
         va="center", fontsize=30, family=SERIF)

fig.savefig("out.png", dpi=100)
